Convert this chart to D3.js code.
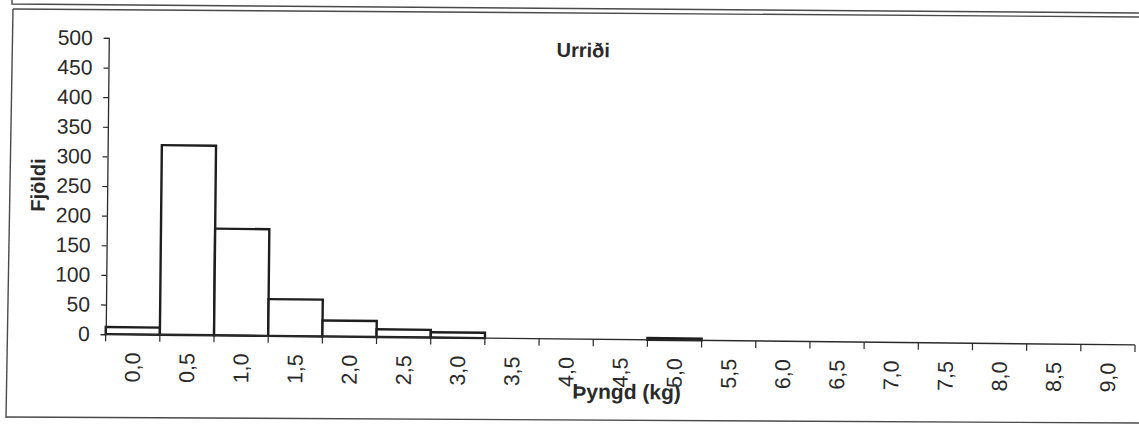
<!DOCTYPE html>
<html>
<head>
<meta charset="utf-8">
<script src="https://cdn.jsdelivr.net/npm/d3@7"></script>
<style>
  html, body { margin: 0; padding: 0; background: #fff; }
  svg { display: block; }
  text { font-family: "Liberation Sans", Arial, sans-serif; fill: #2a2a2a; }
</style>
</head>
<body>
<svg id="chart" width="1139" height="425"></svg>
<script>
// Weight classes (kg) and number of trout in each class
const categories = ["0,0","0,5","1,0","1,5","2,0","2,5","3,0","3,5","4,0","4,5",
                    "5,0","5,5","6,0","6,5","7,0","7,5","8,0","8,5","9,0"];
const counts     = [12, 320, 180, 62, 27, 13, 9, 0, 0, 0,
                    3, 0, 0, 0, 0, 0, 0, 0, 0];
const yTicks     = [0, 50, 100, 150, 200, 250, 300, 350, 400, 450, 500];

const title  = "Urriði";
const xTitle = "Þyngd (kg)";
const yTitle = "Fjöldi";

const svg = d3.select("#chart");
const ink = "#2a2a2a";

// Page frame around the chart
const frame = svg.append("g").attr("fill", "none").attr("stroke", "#4a4a4a").attr("stroke-width", 1.4);
frame.append("path").attr("d", "M12,0 L12,4 L1139,13");
frame.append("path").attr("d", "M13,9 L1139,17");
frame.append("path").attr("d", "M13,9 L6,418");
frame.append("path").attr("d", "M6,417 L1139,423");

// Plot area, tilted slightly as on the printed page
const g = svg.append("g").attr("transform", "rotate(0.6 570 212)");

const plotLeft = 107, plotRight = 1136.4, plotTop = 42.8, plotBottom = 339;

const x = d3.scaleBand().domain(categories).range([plotLeft, plotRight]).padding(0);
const y = d3.scaleLinear().domain([0, 500]).range([plotBottom, plotTop]);

// Bars
g.append("g").selectAll("rect")
  .data(categories.map((c, i) => ({ c, v: counts[i] })).filter(d => d.v > 0))
  .join("rect")
  .attr("x", d => x(d.c))
  .attr("width", x.bandwidth())
  .attr("y", d => y(d.v))
  .attr("height", d => y(0) - y(d.v))
  .attr("fill", "#fff")
  .attr("stroke", "#1e1e1e")
  .attr("stroke-width", 2.4);

// Y axis
const yAxis = g.append("g")
  .attr("transform", `translate(${plotLeft},0)`)
  .call(d3.axisLeft(y).tickValues(yTicks).tickSize(5).tickPadding(11).tickFormat(d3.format("d")));
yAxis.select(".domain").attr("stroke", ink).attr("stroke-width", 1.3);
yAxis.selectAll(".tick line").attr("stroke", ink).attr("stroke-width", 1.2);
yAxis.selectAll("text").attr("font-size", 21).attr("fill", ink)
  .style("font-family", "'Liberation Sans', Arial, sans-serif");

// X axis: ticks on class boundaries, labels centred in each class
const xAxisG = g.append("g").attr("transform", `translate(0,${plotBottom})`);
xAxisG.append("line")
  .attr("x1", plotLeft).attr("x2", plotRight)
  .attr("stroke", ink).attr("stroke-width", 1.4);
const bounds = categories.map(c => x(c)).concat([plotRight]);
xAxisG.selectAll("line.tk").data(bounds).join("line")
  .attr("class", "tk")
  .attr("x1", d => d).attr("x2", d => d)
  .attr("y1", 0).attr("y2", 7)
  .attr("stroke", ink).attr("stroke-width", 1.2);
xAxisG.selectAll("text").data(categories).join("text")
  .attr("transform", d => `translate(${x(d) + x.bandwidth() / 2},${18}) rotate(-90)`)
  .attr("text-anchor", "end")
  .attr("dy", "0.35em")
  .attr("font-size", 21.5)
  .attr("fill", ink)
  .text(d => d);

// Titles
g.append("text")
  .attr("x", 581.5).attr("y", 57)
  .attr("text-anchor", "middle")
  .attr("font-size", 20).attr("font-weight", "bold")
  .text(title);

g.append("text")
  .attr("x", 628.5).attr("y", 398.5)
  .attr("text-anchor", "middle")
  .attr("font-size", 21).attr("font-weight", "bold")
  .text(xTitle);

g.append("text")
  .attr("transform", "translate(37.7,190.6) rotate(-90)")
  .attr("text-anchor", "middle")
  .attr("dy", "0.35em")
  .attr("font-size", 20).attr("font-weight", "bold")
  .text(yTitle);
</script>
</body>
</html>
